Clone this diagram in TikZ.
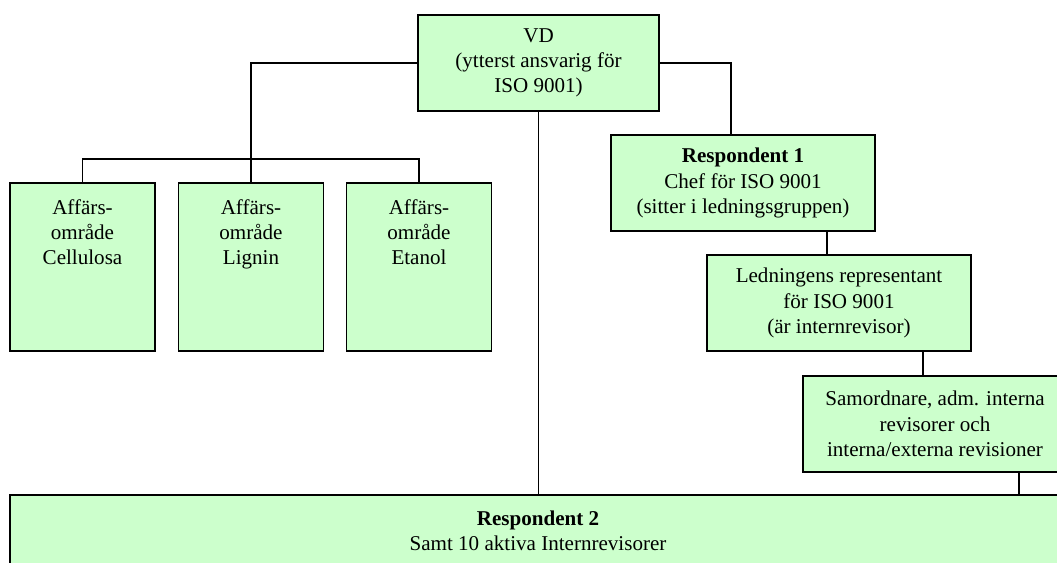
\documentclass[tikz,border=0pt]{standalone}
\usepackage{fontspec}
\setmainfont{Liberation Serif}
\definecolor{boxgreen}{HTML}{CCFFCC}
\begin{document}
\begin{tikzpicture}[x=0.75pt, y=-0.75pt,
  txt/.style={font=\fontsize{15.8}{19}\selectfont, align=center},
  box/.style={txt, draw, line width=1pt, fill=boxgreen, inner sep=0pt},
  unitbox/.style={box, minimum width=108.75pt, minimum height=126pt},
  wide/.style={box, minimum width=198pt, minimum height=72pt},
  toptext/.style={label={[txt, anchor=north, inner sep=0pt, yshift=-12.5pt]north:#1}},
  link/.style={line width=1pt}]
\useasboundingbox (0,0) rectangle (1057,563);
\clip (0,0) rectangle (1057,563);

% top management
\node[box, minimum width=180.75pt, minimum height=72pt] (vd) at (538.5,63)
  {VD\\(ytterst ansvarig för\\ISO 9001)};

% business areas
\node[unitbox, toptext={Affärs-\\område\\Cellulosa}] (cel) at (82.5,267) {};
\node[unitbox, toptext={Affärs-\\område\\Lignin}]    (lig) at (251,267) {};
\node[unitbox, toptext={Affärs-\\område\\Etanol}]    (eta) at (419,267) {};
\coordinate (bus) at (251,159);

% quality chain
\node[wide] (r1)  at (743,183) {\textbf{Respondent 1}\\Chef för ISO 9001\\(sitter i ledningsgruppen)};
\node[wide] (led) at (839,303) {Ledningens representant\\för ISO 9001\\(är internrevisor)};
\node[wide] (sam) at (935,424) {Samordnare, adm. interna\\revisorer och\\interna/externa revisioner};

% internal auditors
\node[box, minimum width=792pt, minimum height=54pt] (bot) at (538,531)
  {\textbf{Respondent 2}\\Samt 10 aktiva Internrevisorer};

% connectors
\draw[link] (vd.west) -| (bus);
\draw[link] (cel.north) |- (bus) -| (eta.north);
\draw[link] (lig.north) -- (bus);
\draw[link] (vd.east) -| ([xshift=-9pt]r1.north);
\draw[link] ([xshift=-9pt]led.north) -- ([xshift=-9pt]led.north |- r1.south);
\draw[link] ([xshift=-9pt]sam.north) -- ([xshift=-9pt]sam.north |- led.south);
\draw[link] (vd.south) -- (vd.south |- bot.north);
\draw[link] ([xshift=63pt]sam.south) -- ([xshift=63pt]sam.south |- bot.north);
\end{tikzpicture}
\end{document}
